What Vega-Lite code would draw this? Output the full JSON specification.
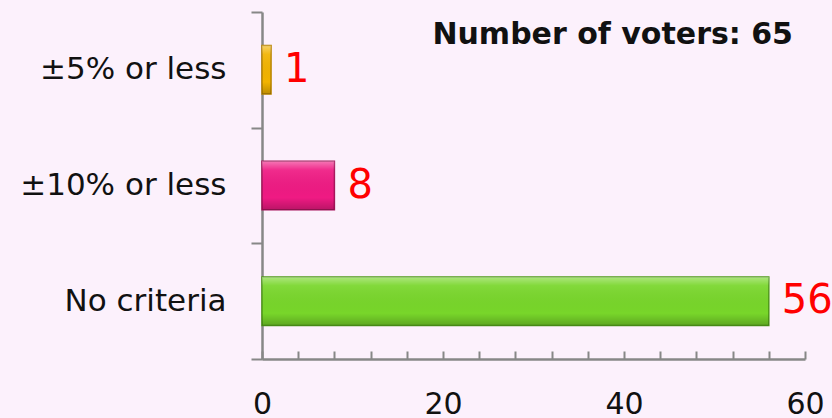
{
  "$schema": "https://vega.github.io/schema/vega-lite/v6.json",
  "autosize": "none",
  "width": 543,
  "height": 347,
  "padding": {"left": 262, "top": 12, "right": 27, "bottom": 59},
  "background": "#FCF1FC",
  "config": {
    "view": {"stroke": null},
    "font": "DejaVu Sans"
  },
  "title": {
    "text": "Number of voters: 65",
    "anchor": "end",
    "frame": "group",
    "orient": "top",
    "baseline": "alphabetic",
    "offset": -34,
    "dx": -12,
    "dy": 44,
    "fontSize": 30,
    "fontWeight": "bold",
    "font": "DejaVu Sans",
    "color": "#111111"
  },
  "data": {
    "values": [
      {"criterion": "±5% or less", "voters": 1, "tone": "gold"},
      {"criterion": "±10% or less", "voters": 8, "tone": "pink"},
      {"criterion": "No criteria", "voters": 56, "tone": "green"}
    ]
  },
  "encoding": {
    "y": {
      "field": "criterion",
      "type": "nominal",
      "sort": null,
      "scale": {"paddingInner": 0, "paddingOuter": 0},
      "axis": {
        "title": null,
        "domainColor": "#878787",
        "domainWidth": 2.5,
        "tickColor": "#878787",
        "tickWidth": 2,
        "tickSize": 11,
        "tickBand": "extent",
        "labelFontSize": 31,
        "labelColor": "#111111",
        "labelPadding": 25,
        "labelLimit": 400,
        "labelFont": "DejaVu Sans"
      }
    },
    "x": {
      "field": "voters",
      "type": "quantitative",
      "scale": {"domain": [0, 60], "nice": false},
      "axis": {
        "title": null,
        "grid": false,
        "values": [0, 4, 8, 12, 16, 20, 24, 28, 32, 36, 40, 44, 48, 52, 56, 60],
        "labelExpr": "datum.value % 20 == 0 ? datum.label : ''",
        "domainColor": "#878787",
        "domainWidth": 2.5,
        "tickColor": "#878787",
        "tickWidth": 2,
        "tickSize": -8,
        "labelFontSize": 30,
        "labelColor": "#111111",
        "labelPadding": 38,
        "labelFlush": false,
        "labelFont": "DejaVu Sans"
      }
    }
  },
  "layer": [
    {
      "mark": {"type": "bar", "strokeWidth": 1.5, "height": {"band": 0.42}},
      "encoding": {
        "color": {
          "field": "tone",
          "type": "nominal",
          "legend": null,
          "scale": {
            "domain": ["gold", "pink", "green"],
            "range": ["#F2B300", "#EF1A83", "#78D62A"]
          }
        },
        "stroke": {
          "field": "tone",
          "type": "nominal",
          "legend": null,
          "scale": {
            "domain": ["gold", "pink", "green"],
            "range": ["#B98500", "#A8145C", "#4F9A18"]
          }
        }
      }
    },
    {
      "mark": {
        "type": "bar",
        "height": {"band": 0.42},
        "fill": {
          "gradient": "linear",
          "x1": 0, "y1": 0, "x2": 0, "y2": 1,
          "stops": [
            {"offset": 0, "color": "rgba(255,255,255,0.40)"},
            {"offset": 0.18, "color": "rgba(255,255,255,0.08)"},
            {"offset": 0.75, "color": "rgba(0,0,0,0.0)"},
            {"offset": 1, "color": "rgba(0,0,0,0.22)"}
          ]
        }
      },
      "encoding": {}
    },
    {
      "mark": {
        "type": "text",
        "align": "left",
        "baseline": "middle",
        "dx": 13,
        "fontSize": 40,
        "color": "#FF0000",
        "font": "DejaVu Sans"
      },
      "encoding": {
        "text": {"field": "voters", "type": "quantitative"}
      }
    }
  ]
}
